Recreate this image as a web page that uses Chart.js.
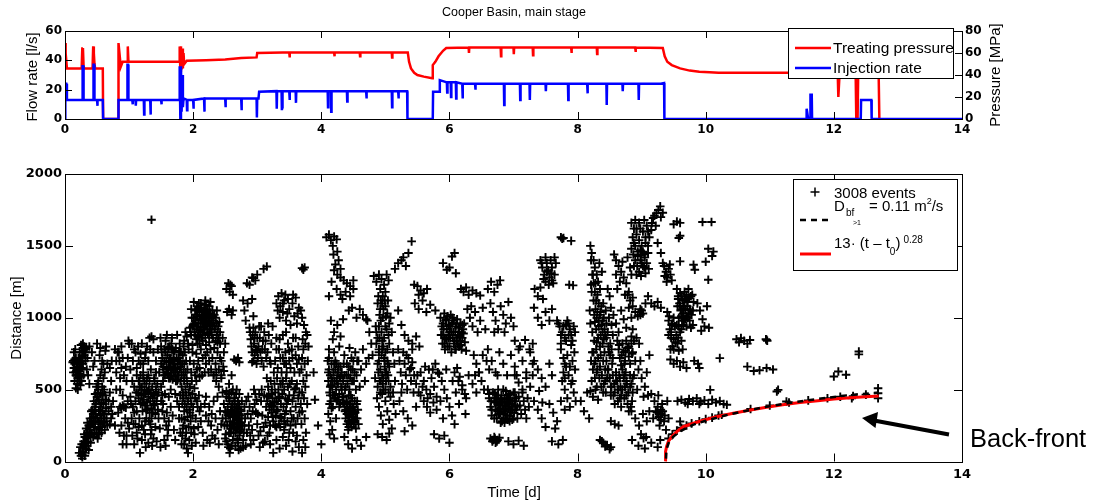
<!DOCTYPE html>
<html>
<head>
<meta charset="utf-8">
<script src="https://cdn.jsdelivr.net/npm/chart.js@4.4.1/dist/chart.umd.min.js"></script>
<style>
body{margin:0;background:#fff;width:1093px;height:501px;overflow:hidden;position:relative;font-family:"Liberation Sans",Arial,sans-serif;}
canvas{position:absolute;left:0;}
#topChart{top:0}
#botChart{top:145px}
.lbl{position:absolute;white-space:nowrap;color:#000;line-height:1;}
.box{position:absolute;box-sizing:border-box;border:1px solid #000;background:#fff;}
svg{position:absolute;left:0;top:0;}
</style>
</head>
<body>
<canvas id="topChart" width="1093" height="145"></canvas>
<canvas id="botChart" width="1093" height="356"></canvas>
<div class="box" style="left:788px;top:28px;width:166px;height:51px"></div>
<div class="box" style="left:793px;top:179px;width:165px;height:92px"></div>
<svg width="1093" height="501">
  <line x1="795" y1="48" x2="831" y2="48" stroke="#f00" stroke-width="2.5"/>
  <line x1="795" y1="68" x2="831" y2="68" stroke="#00f" stroke-width="2.5"/>
  <line x1="810.5" y1="192" x2="819.5" y2="192" stroke="#000" stroke-width="1.5"/>
  <line x1="815" y1="187.5" x2="815" y2="196.5" stroke="#000" stroke-width="1.5"/>
  <line x1="800" y1="220" x2="830" y2="220" stroke="#000" stroke-width="2.5" stroke-dasharray="6 5"/>
  <line x1="800" y1="254" x2="831" y2="254" stroke="#f00" stroke-width="3"/>
  <line x1="949" y1="434.5" x2="874" y2="420.5" stroke="#000" stroke-width="4"/>
  <polygon points="862,418 878,412 875.5,428" fill="#000"/>
</svg>
<script>
// ---- top panel: [time (d), value]
const flowRate = [[0,0],[0.005,24],[0.02,24],[0.03,13],[0.27,13],[0.275,36],[0.285,36],[0.29,13],[0.44,13],[0.445,37],[0.455,37],[0.46,13],
  [0.5,13],[0.505,9],[0.51,13],[0.59,13],[0.595,0],[0.83,0],[0.835,13],[0.97,13],[0.975,37],[0.985,37],[0.99,13],
  [1.05,13],[1.055,10],[1.06,13],[1.1,13],[1.105,9],[1.11,13],[1.23,13],[1.235,3],[1.24,13],[1.33,13],[1.335,3],[1.34,13],
  [1.5,13],[1.505,10],[1.51,13],[1.78,13],[1.79,36],[1.8,0],[1.81,36],[1.82,5],[1.83,30],[1.84,8],[1.85,14],
  [1.9,13],[1.905,6],[1.91,13],[2.0,13],[2.005,7],[2.01,13],[2.17,14],[2.175,5],[2.18,14],[2.5,14],[2.505,8],[2.51,14],
  [2.75,14],[2.755,6],[2.76,14],[2.99,14],[2.995,1],[3.0,14],[3.02,14],[3.03,18.6],[3.3,19],[3.305,7],[3.31,19],
  [3.38,19],[3.385,6],[3.39,8],[3.395,19],[3.5,19],[3.505,13],[3.51,19],[3.6,19],[3.605,11],[3.61,19],
  [4.1,19],[4.105,8],[4.11,19],[4.15,19],[4.155,5],[4.16,19],[4.4,19],[4.405,12],[4.41,19],[4.7,19],[4.705,14],[4.71,19],
  [5.1,19],[5.105,8],[5.11,19],[5.2,19],[5.205,14],[5.21,19],[5.34,19],[5.345,0],[5.74,0],[5.745,18.6],[5.84,18.6],
  [5.85,26.5],[5.96,25],[5.965,18],[5.97,25],[6.02,25],[6.025,15],[6.03,25],[6.1,25],[6.105,14],[6.11,25],
  [6.2,24],[6.205,14],[6.21,24],[6.4,24],[6.405,20],[6.41,24],[6.85,24],[6.855,9.5],[6.86,24],[7.1,24],[7.105,13],[7.11,24],
  [7.25,24],[7.255,13],[7.26,24],[7.5,24],[7.505,19],[7.51,24],[7.85,24],[7.855,13],[7.86,24],[8.15,24],[8.155,17.5],[8.16,24],
  [8.45,24],[8.455,9.5],[8.46,24],[8.7,24],[8.705,19],[8.71,24],[8.95,24],[8.955,13],[8.96,24],[9.3,24],[9.35,24.5],[9.355,0],
  [11.57,0],[11.575,7],[11.6,0],[11.63,0],[11.635,16.5],[11.655,16.5],[11.66,0],[12.42,0],[12.425,13],[12.585,13],[12.59,0],[14,0]];

const treatingPressure = [[0,69],[0.01,60],[0.03,46],[0.26,46],[0.27,64],[0.28,64.5],[0.29,48],[0.3,46],
  [0.43,46],[0.44,66],[0.45,60],[0.46,50],[0.47,46],[0.59,46],[0.595,0],[0.83,0],[0.835,69],[0.85,60],[0.87,47.5],[0.9,52],
  [0.97,52],[0.98,66],[0.99,52],[1.78,52],[1.79,66],[1.8,44],[1.81,66],[1.82,45],[1.83,64],[1.84,46],[1.85,60],[1.86,50],
  [1.9,53],[2.2,53.5],[2.5,54],[2.75,55.5],[2.99,56],[3.0,60],[3.4,60.5],[3.5,60.5],[3.505,56],[3.51,60.5],
  [4.2,60.5],[4.205,57],[4.21,60.5],[4.6,60.5],[4.605,57],[4.61,60.5],[5.1,60.5],[5.105,56],[5.11,60.5],[5.35,60.5],
  [5.37,52],[5.4,46],[5.45,42],[5.5,40],[5.6,38.5],[5.73,37],[5.74,49],[5.78,52],[5.83,57],[5.9,62],[5.95,64.5],
  [6.3,65],[6.305,60],[6.31,65],[6.8,65],[6.805,57],[6.81,65],[7.0,65],[7.005,59],[7.01,65],[7.3,65],[7.305,58],[7.31,65],
  [7.9,65],[7.905,60],[7.91,65],[8.3,65],[8.305,59],[8.31,65],[8.9,65],[8.905,61],[8.91,65],[9.33,64.5],
  [9.36,57],[9.4,52],[9.47,49],[9.6,46],[9.75,44],[9.9,43],[10.06,42.5],[10.2,42],[12.06,42],[12.07,20],[12.09,42],
  [12.34,42],[12.35,0],[12.37,0],[12.38,42],[12.55,42],[12.7,38],[12.71,0]];

// ---- bottom panel: events, flat list of time (d), distance (m)
const eventsDay0 = [0.13,700, 0.15,680, 0.14,650, 0.17,720, 0.18,690, 0.16,620, 0.19,600, 0.2,660, 0.21,640, 0.22,700, 0.23,610, 0.2,580,
  0.22,560, 0.24,530, 0.25,590, 0.26,650, 0.27,760, 0.28,790, 0.29,770, 0.3,800, 0.31,780, 0.27,730, 0.25,700, 0.3,740, 0.33,790,
  0.24,640, 0.19,540, 0.17,600, 0.23,660, 0.28,680, 0.32,760, 0.21,600, 0.26,560, 0.15,710, 0.18,630,
  0.27,20, 0.27,45, 0.27,70, 0.27,95, 0.26,120, 0.29,140, 0.3,110, 0.24,100, 0.33,90, 0.31,170,
  0.32,130, 0.34,160, 0.35,200, 0.36,180, 0.38,220, 0.37,250, 0.4,240, 0.41,280, 0.42,300, 0.43,260, 0.44,330, 0.45,310,
  0.46,350, 0.47,380, 0.48,400, 0.49,420, 0.5,450, 0.51,480, 0.52,500, 0.48,330, 0.5,300, 0.53,280, 0.55,320, 0.56,260,
  0.57,300, 0.58,350, 0.6,330, 0.62,280, 0.55,380, 0.6,400, 0.64,430, 0.59,460, 0.46,200, 0.52,230, 0.54,220, 0.58,240,
  0.62,220, 0.65,300, 0.68,350, 0.7,260, 0.44,170, 0.39,200, 0.36,140, 0.57,410, 0.53,360,
  0.52,560, 0.55,600, 0.57,640, 0.6,580, 0.62,620, 0.58,700, 0.55,790, 0.63,770, 0.66,680, 0.7,650, 0.73,700, 0.72,560,
  0.78,780, 0.82,760, 0.88,650, 0.9,720, 0.95,660, 0.99,840, 1.0,820, 0.85,700, 0.8,620,
  0.86,380, 0.88,370, 0.9,390, 0.92,380, 0.95,375,
  0.72,300, 0.78,250, 0.85,200, 0.9,120, 0.96,180, 0.75,420, 0.98,270, 0.8,500,
  0.14,760, 0.16,780, 0.12,690, 0.13,620, 0.15,560, 0.17,510, 0.19,680, 0.21,720, 0.23,760, 0.25,810, 0.28,820, 0.32,700,
  0.34,640, 0.36,600, 0.38,540, 0.35,720, 0.2,500, 0.22,630, 0.24,690, 0.29,600,
  0.22,60, 0.25,40, 0.29,60, 0.31,40, 0.34,110, 0.37,80, 0.4,130, 0.42,190, 0.45,240, 0.47,270, 0.49,200, 0.51,160,
  0.53,190, 0.55,240, 0.57,200, 0.6,270, 0.62,330, 0.64,370, 0.66,250, 0.68,420, 0.7,480, 0.72,380, 0.74,330, 0.43,360,
  0.45,420, 0.47,470, 0.49,520, 0.51,540, 0.53,430, 0.56,470, 0.58,520, 0.61,500, 0.63,460, 0.39,300, 0.41,350, 0.33,230,
  0.3,190, 0.35,270,
  0.38,800, 0.42,760, 0.46,700, 0.5,820, 0.54,740, 0.6,680, 0.64,800, 0.44,660,
  0.8,700, 0.84,760, 0.88,800, 0.92,600, 0.96,560, 0.98,720, 0.86,580,
  0.86,500, 0.9,460, 0.94,300, 0.98,420, 0.88,250, 0.92,180, 0.96,120, 0.83,340];

const eventsDay1 = [1.02,450, 1.04,300, 1.06,380, 1.08,520, 1.1,260, 1.1,420, 1.12,350, 1.14,480, 1.15,560, 1.16,300, 1.18,400,
  1.19,460, 1.2,520, 1.21,350, 1.22,580, 1.23,430, 1.24,500, 1.25,280, 1.26,470, 1.27,540, 1.28,410, 1.29,360, 1.3,450,
  1.31,500, 1.32,560, 1.33,420, 1.34,480, 1.35,300, 1.36,520, 1.37,440, 1.38,390, 1.39,580, 1.4,460, 1.41,330, 1.42,500,
  1.43,420, 1.44,540, 1.2,250, 1.27,300, 1.33,260, 1.12,600, 1.05,560, 1.18,600, 1.3,600, 1.08,340, 1.25,390, 1.35,370,
  1.22,470, 1.28,490, 1.15,440, 1.4,400, 1.45,360, 1.38,470, 1.32,340, 1.24,560,
  1.0,230, 1.05,180, 1.08,120, 1.12,200, 1.17,60, 1.2,150, 1.25,190, 1.3,130, 1.35,220, 1.38,160, 1.15,240,
  1.12,650, 1.15,700, 1.18,750, 1.22,680, 1.25,720, 1.28,800, 1.32,860, 1.35,870, 1.38,850, 1.33,780, 1.42,700, 1.2,820, 1.08,780,
  1.35,1682,
  1.47,620, 1.5,680, 1.52,720, 1.54,640, 1.55,780, 1.56,600, 1.58,700, 1.59,650, 1.6,740, 1.61,610, 1.62,690, 1.63,800,
  1.64,660, 1.65,720, 1.66,600, 1.67,640, 1.68,700, 1.69,760, 1.7,620, 1.71,680, 1.72,590, 1.73,650, 1.74,720, 1.75,620,
  1.76,680, 1.77,600, 1.78,760, 1.79,640, 1.8,700, 1.81,660, 1.82,600, 1.84,740, 1.85,800, 1.86,680, 1.88,620, 1.5,800,
  1.57,840, 1.66,820, 1.73,790, 1.62,580, 1.68,570, 1.75,560, 1.53,560, 1.6,610, 1.7,710, 1.64,690, 1.78,700, 1.72,650,
  1.58,620, 1.67,780,
  1.46,480, 1.5,420, 1.52,350, 1.55,300, 1.58,250, 1.6,180, 1.62,450, 1.65,380, 1.68,320, 1.7,220, 1.72,150, 1.75,420,
  1.78,300, 1.8,200, 1.82,120, 1.85,250, 1.88,160, 1.55,150, 1.48,230, 1.65,500, 1.72,470, 1.62,280, 1.78,380, 1.52,460, 1.84,460,
  1.8,560, 1.82,520, 1.84,480, 1.85,440, 1.86,560, 1.87,400, 1.88,500, 1.89,460, 1.9,380, 1.91,540, 1.92,420, 1.93,480,
  1.94,360, 1.95,520, 1.96,440, 1.97,400, 1.98,560, 1.99,470, 2.0,380, 2.02,510, 2.03,440, 1.86,350, 1.9,580, 1.95,340, 1.83,400,
  1.83,180, 1.86,120, 1.9,90, 1.94,150, 1.98,110, 2.02,190, 2.04,130,
  1.86,840, 1.88,900, 1.9,870, 1.92,820, 1.95,930, 1.97,880, 1.99,810,
  1.02,640, 1.06,700, 1.1,760, 1.14,800, 1.18,680, 1.22,620, 1.26,760, 1.3,700, 1.34,640, 1.38,760, 1.42,620, 1.45,780,
  1.04,820, 1.16,560, 1.28,580, 1.4,560,
  1.03,400, 1.07,260, 1.11,480, 1.13,160, 1.17,520, 1.21,410, 1.23,220, 1.27,360, 1.31,280, 1.34,190, 1.37,340, 1.41,240,
  1.43,140, 1.46,300, 1.5,520, 1.53,400, 1.56,470, 1.59,340, 1.61,220, 1.57,110, 1.49,100, 1.44,460, 1.36,110, 1.26,100,
  1.49,860, 1.51,760, 1.53,660, 1.55,700, 1.57,760, 1.59,880, 1.61,790, 1.63,720, 1.65,640, 1.67,860, 1.69,680, 1.71,770,
  1.73,560, 1.75,880, 1.77,720, 1.79,820, 1.81,760, 1.83,680, 1.85,620, 1.87,760, 1.89,700, 1.91,640, 1.93,780, 1.95,700,
  1.97,620, 1.99,760, 2.01,680, 2.03,600, 2.05,560, 2.07,820, 1.54,600, 1.64,580, 1.76,570, 1.86,580,
  1.8,460, 1.82,300, 1.84,230, 1.87,290, 1.89,200, 1.91,310, 1.93,240, 1.96,280, 1.99,320, 2.01,230, 2.04,300, 2.07,380,
  2.09,460, 1.92,60, 1.97,200];

const eventsDay2 = [2.0,950, 2.01,1000, 2.02,900, 2.03,1050, 2.04,980, 2.05,920, 2.06,1080, 2.07,1010, 2.08,960, 2.09,880,
  2.1,1040, 2.11,990, 2.12,930, 2.13,1070, 2.14,1020, 2.15,960, 2.16,900, 2.17,1050, 2.18,1000, 2.19,940, 2.2,1090, 2.21,980,
  2.22,920, 2.23,1030, 2.24,970, 2.25,880, 2.26,1010, 2.27,950, 2.28,900, 2.29,1000, 2.3,940, 2.31,860, 2.32,980, 2.34,920,
  2.35,840, 2.36,960, 2.38,900, 2.4,860, 2.42,820, 2.05,850, 2.1,820, 2.15,840, 2.2,810, 2.25,830, 2.08,1060, 2.12,1100,
  2.18,1090, 2.22,1060, 2.02,960, 2.06,940, 2.14,880, 2.19,1030, 2.24,1000, 2.28,960, 2.33,1020, 2.16,990, 2.21,950,
  2.11,910, 2.07,870, 2.26,920, 2.3,1050, 2.13,990, 2.23,890, 2.17,960, 1.98,1000, 1.96,900, 2.37,1050, 2.41,970,
  2.05,750, 2.08,700, 2.1,650, 2.12,780, 2.15,720, 2.18,620, 2.2,680, 2.22,760, 2.25,700, 2.28,640, 2.3,720, 2.32,600,
  2.35,680, 2.38,760, 2.4,640, 2.42,720, 2.44,600, 2.14,600, 2.24,620, 2.33,790, 2.06,640, 2.19,740, 2.27,780, 2.36,620, 2.1,590,
  2.06,420, 2.1,350, 2.12,280, 2.15,200, 2.18,400, 2.2,320, 2.22,150, 2.25,380, 2.28,250, 2.3,180, 2.32,420, 2.35,300,
  2.38,220, 2.4,120, 2.42,350, 2.44,260, 2.16,110, 2.26,130, 2.34,160, 2.08,240, 2.2,450, 2.38,450, 2.12,380, 2.29,330, 2.24,280,
  2.32,600, 2.36,560, 2.4,520, 2.44,580, 2.48,630, 2.52,490, 2.56,540, 2.6,600, 2.62,500, 2.46,480,
  2.52,1200, 2.55,1240, 2.57,1180, 2.6,1220, 2.62,1160, 2.58,1230, 2.53,1040, 2.56,1060, 2.6,1020, 2.62,1050,
  2.64,710, 2.67,700, 2.7,720, 2.72,690,
  2.48,400, 2.5,350, 2.51,300, 2.52,450, 2.53,250, 2.54,380, 2.55,320, 2.56,200, 2.57,420, 2.58,280, 2.59,360, 2.6,230,
  2.61,400, 2.62,310, 2.63,260, 2.64,440, 2.65,340, 2.66,200, 2.67,380, 2.68,290, 2.69,240, 2.7,420, 2.71,330, 2.72,180,
  2.73,270, 2.74,360, 2.75,220, 2.76,300, 2.78,150, 2.8,250, 2.82,110, 2.84,200, 2.5,160, 2.54,120, 2.58,90, 2.62,150,
  2.66,110, 2.7,130, 2.74,90, 2.78,100, 2.6,480, 2.68,500, 2.72,470, 2.55,470, 2.76,420, 2.8,380, 2.57,250, 2.63,330,
  2.69,300, 2.65,270, 2.61,350, 2.67,230, 2.71,260, 2.59,200, 2.64,380, 2.73,320, 2.53,340,
  2.78,1120, 2.8,1050, 2.82,980, 2.85,1100, 2.88,930, 2.92,1130, 2.94,1010,
  2.89,900, 2.9,850, 2.91,800, 2.92,760, 2.93,880, 2.94,700, 2.95,820, 2.96,740, 2.97,900, 2.98,780, 2.99,680, 3.0,860,
  3.01,720, 3.02,800, 3.03,940, 3.05,760, 3.07,700, 3.09,840, 3.1,660, 3.12,780, 3.14,720, 2.94,930, 2.96,860, 3.0,770, 2.92,690,
  2.84,1240, 2.88,1230, 2.92,1280, 2.94,1276, 2.97,1260, 3.0,1300, 3.15,1357, 3.1,1340,
  2.86,450, 2.88,380, 2.9,300, 2.92,220, 2.94,150, 2.96,400, 2.98,340, 3.0,260, 3.02,180, 3.04,100, 3.06,420, 3.08,320,
  3.1,240, 3.12,140, 3.14,380, 2.9,120, 2.97,470, 3.03,470, 2.87,250, 3.11,460,
  1.97,1060, 1.99,940, 2.01,1110, 2.03,880, 2.05,1020, 2.07,940, 2.09,1100, 2.11,1060, 2.13,860, 2.15,1000, 2.17,920,
  2.19,860, 2.21,1040, 2.23,960, 2.25,1080, 2.27,1020, 2.29,880, 2.31,1010, 2.33,940, 2.35,1000, 2.37,880, 2.39,940,
  2.27,1110, 2.19,1120,
  2.44,700, 2.46,860, 2.48,760, 2.5,820, 2.42,900, 2.38,830, 2.47,660,
  2.46,300, 2.49,250, 2.51,190, 2.52,140, 2.55,100, 2.57,60, 2.6,110, 2.63,200, 2.65,420, 2.67,470, 2.69,160, 2.71,80,
  2.73,210, 2.75,350, 2.77,250, 2.79,200, 2.81,300, 2.83,420, 2.6,380, 2.56,440, 2.62,270, 2.66,310, 2.7,370, 2.74,270,
  2.68,340, 2.58,330, 2.64,240, 2.72,400,
  3.04,860, 3.06,940, 3.08,780, 3.11,900, 3.13,840, 3.16,760, 3.18,880, 3.2,700, 3.22,820, 3.24,940, 3.17,960, 3.21,680,
  2.85,330, 2.89,180, 2.93,350, 2.95,500, 2.99,430, 3.01,330, 3.05,210, 3.07,500, 3.09,130, 3.13,270, 3.15,450, 3.17,310,
  3.19,200, 3.23,390];

const eventsDay3 = [3.15,580, 3.17,520, 3.18,460, 3.2,400, 3.21,560, 3.22,340, 3.23,500, 3.24,440, 3.25,280, 3.26,380,
  3.27,540, 3.28,480, 3.29,320, 3.3,420, 3.31,580, 3.32,360, 3.33,500, 3.34,260, 3.35,450, 3.36,540, 3.37,400, 3.38,300,
  3.39,470, 3.4,560, 3.41,380, 3.42,500, 3.43,330, 3.44,440, 3.45,580, 3.46,400, 3.47,280, 3.48,520, 3.5,460, 3.52,350,
  3.54,560, 3.55,420, 3.57,300, 3.58,500, 3.6,380, 3.62,540, 3.64,440, 3.66,340, 3.2,250, 3.28,250, 3.36,240, 3.44,260,
  3.52,250, 3.6,260,
  3.16,180, 3.2,120, 3.25,60, 3.3,150, 3.35,90, 3.4,170, 3.45,110, 3.5,200, 3.55,70, 3.6,140, 3.65,100,
  3.26,620, 3.28,700, 3.3,860, 3.32,650, 3.34,780, 3.36,720, 3.38,620, 3.4,880, 3.42,680, 3.44,760, 3.46,620, 3.48,820,
  3.5,700, 3.52,650, 3.54,780, 3.56,860, 3.58,620, 3.6,740, 3.62,680, 3.64,800, 3.66,620, 3.45,900,
  3.3,1100, 3.33,1150, 3.36,1080, 3.38,1170, 3.4,1040, 3.42,1120, 3.45,980, 3.48,1130, 3.5,1060, 3.52,950, 3.55,1100,
  3.58,1010, 3.6,1140, 3.62,960, 3.65,1070, 3.44,1160, 3.35,1000,
  3.7,1345, 3.72,1335, 3.74,1350, 3.68,1050, 3.7,1000, 3.73,950, 3.76,900, 3.71,850, 3.75,820, 3.78,880, 3.72,780,
  3.7,720, 3.74,680, 3.69,640, 3.77,600, 3.72,560, 3.75,520, 3.7,480, 3.73,440, 3.78,400, 3.7,350, 3.74,300, 3.69,260,
  3.76,200, 3.72,150, 3.75,100, 3.7,60, 3.8,800, 3.79,700,
  3.9,430, 3.95,250, 4.0,120, 3.88,620,
  3.16,420, 3.19,360, 3.22,470, 3.24,310, 3.27,410, 3.3,350, 3.33,440, 3.36,310, 3.39,540, 3.42,280, 3.45,350, 3.48,430,
  3.51,540, 3.54,300, 3.57,460, 3.6,510, 3.63,300, 3.66,480, 3.68,400, 3.56,200, 3.42,220, 3.3,240, 3.49,150, 3.62,180,
  3.3,780, 3.35,850, 3.4,720, 3.45,680, 3.5,770, 3.55,720, 3.6,860, 3.65,710,
  3.32,1050, 3.4,1100, 3.47,1030, 3.56,1160, 3.63,1030];

const eventsDay4 = [4.08,1560, 4.12,1578, 4.15,1540, 4.2,1565, 4.24,1545, 4.18,1500, 4.25,1460, 4.27,1400, 4.22,1370, 4.3,1340, 4.19,1440,
  4.2,1330, 4.25,1300, 4.3,1280, 4.35,1260, 4.4,1240, 4.45,1220, 4.5,1200, 4.38,1180, 4.3,1160, 4.24,1200, 4.33,1130,
  4.45,1150, 4.5,1260, 4.12,1150, 4.16,1250,
  4.15,980, 4.2,900, 4.25,950, 4.3,870, 4.34,990, 4.18,850,
  4.1,700, 4.11,560, 4.12,640, 4.13,480, 4.14,600, 4.15,420, 4.16,680, 4.17,520, 4.18,380, 4.19,620, 4.2,460, 4.21,560,
  4.22,700, 4.23,500, 4.24,420, 4.25,600, 4.26,540, 4.27,660, 4.28,470, 4.29,580, 4.3,400, 4.31,520, 4.32,620, 4.33,450,
  4.34,560, 4.35,680, 4.37,500, 4.39,600, 4.41,540, 4.43,660, 4.45,580, 4.47,720, 4.49,640, 4.51,560, 4.53,760, 4.55,600,
  4.58,700, 4.6,520, 4.62,640, 4.65,780, 4.68,560, 4.7,680, 4.12,780, 4.2,760, 4.28,800, 4.36,740, 4.44,790, 4.14,520,
  4.22,640, 4.3,590, 4.18,460, 4.26,430, 4.11,620, 4.24,680, 4.16,580,
  4.35,450, 4.36,400, 4.37,350, 4.38,300, 4.39,420, 4.4,260, 4.41,380, 4.42,330, 4.43,460, 4.44,280, 4.45,400, 4.46,350,
  4.47,240, 4.48,440, 4.49,310, 4.5,380, 4.51,270, 4.52,420, 4.53,340, 4.54,230, 4.55,400, 4.56,300, 4.57,360, 4.58,260,
  4.42,220, 4.46,460, 4.5,330, 4.44,370, 4.48,290, 4.4,330,
  4.11,330, 4.14,280, 4.17,220, 4.2,160, 4.23,300, 4.13,190,
  4.36,170, 4.42,120, 4.48,90, 4.55,150, 4.62,110, 4.7,170,
  4.43,1050, 4.48,1070, 4.55,1000, 4.6,1060, 4.65,1020, 4.7,990,
  4.72,980, 4.75,900, 4.78,820, 4.8,740, 4.85,940, 4.88,860, 4.9,760, 4.74,720,
  4.82,1290, 4.86,1250, 4.9,1300, 4.94,1270, 4.98,1230, 5.02,1300, 5.05,1260, 4.92,1200, 4.96,1150, 5.0,1180, 5.04,1120,
  4.88,1100, 4.92,1060, 4.96,1000, 5.0,1080, 5.03,1030, 5.06,960, 4.9,940, 4.94,900, 4.98,860, 5.02,920, 5.05,880,
  4.86,820, 4.9,780, 4.94,740, 4.97,800, 5.0,760, 5.03,700, 5.06,820, 4.88,680, 4.92,640, 4.95,600, 4.99,660, 5.02,620,
  5.05,560, 4.84,580, 4.88,520, 4.92,480, 4.96,540, 5.0,500, 5.04,600, 5.08,520, 5.12,480, 5.15,560, 4.9,700, 4.95,840,
  5.0,940, 4.98,720, 4.93,980, 5.08,1000, 5.1,900, 5.12,760, 5.14,680, 4.86,900, 5.0,620, 4.97,580, 5.03,780, 4.91,560,
  5.06,660, 4.95,1100,
  4.87,440, 4.9,380, 4.93,320, 4.96,260, 5.0,420, 5.03,350, 5.06,290, 5.1,230, 5.13,400, 5.16,330, 4.95,470, 5.08,450,
  4.88,190, 4.95,170, 5.02,150, 5.06,195,
  4.12,720, 4.14,460, 4.16,370, 4.18,560, 4.2,680, 4.22,440, 4.24,560, 4.26,620, 4.28,380, 4.3,660, 4.32,500, 4.34,410,
  4.36,600, 4.38,520, 4.4,680, 4.42,600, 4.44,500, 4.46,640, 4.48,560, 4.5,700, 4.52,620, 4.54,500, 4.56,700, 4.13,400, 4.15,530,
  4.38,360, 4.4,410, 4.42,280, 4.44,320, 4.46,260, 4.48,380, 4.5,280, 4.52,350, 4.54,300, 4.56,420, 4.43,240, 4.47,330,
  4.89,1150, 4.93,1120, 4.97,1060, 5.01,1010, 4.91,860, 4.95,780, 4.99,700, 5.04,680, 4.89,620, 4.93,560, 4.97,500,
  5.01,560, 5.05,480, 4.99,1120, 4.91,1020];

const eventsDay5 = [5.2,780, 5.22,700, 5.24,620, 5.26,540, 5.28,760, 5.3,680, 5.32,600, 5.34,500, 5.36,720, 5.38,640,
  5.4,560, 5.42,780, 5.44,480, 5.25,480, 5.33,740,
  5.15,1340, 5.2,1380, 5.25,1400, 5.28,1420, 5.32,1360, 5.36,1450, 5.41,1531,
  5.45,1230, 5.5,1220, 5.55,1190, 5.6,1170, 5.65,1200, 5.52,1160,
  5.46,1100, 5.52,1060, 5.58,1120, 5.64,1040, 5.7,1090, 5.78,1050,
  5.3,880, 5.36,840, 5.42,820, 5.48,870, 5.53,800, 5.2,1050, 5.25,950,
  5.4,650, 5.45,600, 5.48,540, 5.52,480, 5.55,620, 5.6,560, 5.64,500, 5.68,640, 5.72,580, 5.76,520, 5.8,450, 5.84,610, 5.66,440,
  5.55,460, 5.6,420, 5.65,380, 5.7,340, 5.75,410, 5.8,360,
  5.22,420, 5.28,350, 5.35,300, 5.42,250, 5.48,380, 5.3,210,
  5.76,190, 5.84,160, 5.92,180, 6.0,130,
  5.86,1000, 5.88,940, 5.9,880, 5.92,820, 5.94,980, 5.96,920, 5.98,860, 6.0,800, 6.02,1020, 6.04,960, 6.06,900, 6.08,840,
  6.1,780, 6.12,990, 6.14,930, 6.16,870, 6.18,810, 6.2,950, 6.22,890, 6.24,830, 6.26,770, 5.9,960, 5.95,850, 6.0,900,
  6.05,860, 6.1,940, 6.15,800, 6.2,860, 5.93,780, 6.03,760, 6.13,880, 6.07,980, 5.97,1010, 6.17,960, 5.89,820, 6.01,940,
  6.11,840, 6.09,900, 5.99,880, 6.19,900, 6.23,960,
  5.9,1380, 5.96,1334, 6.0,1350, 6.04,1426, 6.08,1450, 6.1,1310,
  5.78,680, 5.82,620, 5.88,560, 5.92,500, 5.96,440, 6.0,380, 6.04,320, 6.08,260, 6.12,650, 6.16,590, 6.2,530, 6.24,470,
  5.86,420, 5.95,640, 6.05,560, 6.15,400, 6.25,330, 5.9,300, 6.1,480,
  5.91,920, 5.93,860, 5.95,990, 5.97,800, 5.99,950, 6.01,860, 6.03,900, 6.05,1000, 6.07,820, 6.09,780, 6.11,960, 6.13,820,
  6.15,900, 6.17,840, 6.19,780, 6.21,920, 5.87,880, 5.92,1030,
  5.42,690, 5.5,600, 5.58,520, 5.62,660, 5.7,470, 5.74,640];

const eventsDay6 = [6.18,1200, 6.22,1180, 6.26,1210, 6.3,1160, 6.36,1190, 6.42,1170, 6.48,1155,
  6.28,1060, 6.32,1000, 6.36,940, 6.4,1040, 6.44,900, 6.48,980, 6.52,1070, 6.56,920, 6.34,1080,
  6.38,740, 6.42,680, 6.46,620, 6.5,560, 6.54,500, 6.58,700, 6.62,640, 6.4,600, 6.52,740,
  6.08,620, 6.14,560, 6.2,500, 6.26,440, 6.3,600, 6.36,540, 6.42,480, 6.46,620,
  6.6,1200, 6.65,1250, 6.7,1180, 6.75,1230, 6.79,1260,
  6.64,1100, 6.68,1040, 6.72,980, 6.76,920, 6.8,1080, 6.84,1020, 6.88,960, 6.92,1110, 6.96,1000, 7.0,940, 6.7,900, 6.86,900,
  6.6,780, 6.66,700, 6.72,620, 6.78,760, 6.84,680, 6.9,600, 6.96,740, 7.02,660, 7.08,780, 7.14,700, 7.2,620, 7.26,760,
  7.3,680, 6.75,600, 7.05,600,
  6.6,500, 6.62,440, 6.64,380, 6.66,320, 6.68,480, 6.7,420, 6.72,360, 6.74,300, 6.76,460, 6.78,400, 6.8,340, 6.82,280,
  6.84,500, 6.86,440, 6.88,380, 6.9,320, 6.92,460, 6.94,400, 6.96,340, 6.98,290, 7.0,480, 7.02,420, 7.04,360, 7.06,300,
  7.08,450, 7.1,390, 7.12,330, 7.14,480, 7.16,420, 7.18,360, 7.2,300, 7.22,440, 7.24,380, 6.75,350, 6.8,430, 6.85,330,
  6.9,410, 6.95,360, 6.83,390, 6.87,350, 6.93,430, 6.97,380, 6.79,370, 6.73,410, 6.89,460, 7.01,340, 6.91,290, 6.81,460,
  6.77,330, 6.99,420, 6.71,470, 6.65,420, 7.03,390, 6.86,270, 6.94,320,
  6.64,160, 6.67,140, 6.7,170, 6.72,130, 6.75,150, 6.78,165,
  6.92,140, 7.0,120, 7.08,145, 7.16,110,
  6.62,470, 6.66,360, 6.7,300, 6.74,440, 6.78,330, 6.82,420, 6.84,360, 6.88,300, 6.9,440, 6.92,370, 6.94,280, 6.96,420,
  6.98,360, 7.0,300, 7.04,440, 7.06,380, 6.76,500, 6.8,270, 6.86,410, 6.88,490, 6.72,440, 6.95,470, 7.02,480, 6.84,300, 6.76,390,
  6.68,150, 6.71,160, 6.74,140];

const eventsDay7 = [7.02,600, 7.08,550, 7.14,500, 7.2,580, 7.26,520, 7.3,600,
  7.02,840, 7.1,800, 7.18,845, 7.25,780, 7.3,820,
  7.32,1070, 7.38,1000, 7.44,950, 7.5,1040, 7.56,980, 7.6,1060,
  7.33,1200, 7.38,1150, 7.42,1210, 7.46,1130,
  7.42,1400, 7.45,1350, 7.48,1300, 7.5,1420, 7.52,1380, 7.54,1330, 7.56,1280, 7.58,1400, 7.6,1350, 7.62,1240, 7.64,1300,
  7.66,1380, 7.5,1250, 7.55,1230, 7.47,1270, 7.59,1310,
  7.74,1560, 7.76,1550, 7.78,1555, 7.9,1535,
  7.32,700, 7.38,640, 7.44,580, 7.5,520, 7.56,680, 7.6,600, 7.4,490,
  7.32,420, 7.38,360, 7.44,300, 7.5,240, 7.56,400, 7.62,340, 7.68,280, 7.74,420, 7.8,360, 7.45,410, 7.65,230,
  7.6,140, 7.7,120, 7.77,150,
  7.68,980, 7.72,940, 7.76,900, 7.8,860, 7.84,980, 7.88,920, 7.92,840, 7.96,900, 7.74,820, 7.9,810, 7.82,950, 7.86,880,
  7.74,780, 7.78,720, 7.82,660, 7.86,600, 7.9,540, 7.94,480, 7.97,420, 7.76,560, 7.8,500, 7.84,440, 7.88,380, 7.92,700,
  7.96,640, 7.78,620, 7.95,760,
  7.87,1230, 7.93,1225,
  7.7,960, 7.74,880, 7.78,940, 7.82,840, 7.86,960, 7.9,880, 7.94,940, 7.8,680, 7.84,740, 7.88,660, 7.92,560, 7.8,580,
  7.44,1380, 7.52,1320, 7.6,1260, 7.64,1420];

const eventsDay8 = [8.35,150, 8.38,140, 8.4,130, 8.43,104, 8.46,115, 8.5,85, 8.52,100,
  8.05,420, 8.1,350, 8.15,480, 8.18,300,
  8.2,1500, 8.22,1450, 8.25,1400, 8.27,1350, 8.3,1300, 8.32,1250, 8.35,1200, 8.22,1180, 8.25,1120, 8.28,1060, 8.3,1000,
  8.33,940, 8.36,880, 8.39,820, 8.42,760, 8.45,700, 8.48,640, 8.5,580, 8.52,520, 8.2,960, 8.23,900, 8.26,840, 8.29,780,
  8.32,720, 8.35,660, 8.38,600, 8.41,540, 8.44,480, 8.21,700, 8.24,640, 8.27,580, 8.3,520, 8.33,1100, 8.36,1040, 8.39,980,
  8.42,920, 8.45,860, 8.48,800, 8.51,740, 8.54,680, 8.24,1300, 8.28,1240, 8.31,1160, 8.34,1380, 8.38,1320, 8.26,1020,
  8.29,920, 8.32,860, 8.35,800, 8.23,760, 8.26,680, 8.3,620, 8.4,700, 8.43,640, 8.46,580, 8.49,1000, 8.4,1100, 8.44,1050,
  8.47,1200, 8.5,1150, 8.53,950, 8.55,880, 8.21,1230, 8.19,1050, 8.37,950, 8.41,850, 8.27,970,
  8.2,490, 8.24,450, 8.28,500, 8.32,430,
  8.57,1440, 8.6,1400, 8.64,1360, 8.68,1320, 8.72,1280, 8.76,1240, 8.8,1180, 8.62,1200, 8.66,1250, 8.7,1390, 8.74,1160,
  8.78,1420, 8.84,1300, 8.86,1140, 8.6,1300, 8.82,1350,
  8.52,1070, 8.56,1020, 8.6,960, 8.64,900, 8.68,1050, 8.72,990, 8.76,930, 8.8,1070, 8.84,1000, 8.86,920,
  8.62,840, 8.64,780, 8.66,720, 8.68,670, 8.7,820, 8.72,760, 8.74,700, 8.76,840, 8.78,790, 8.8,730, 8.82,680, 8.84,820,
  8.86,760, 8.69,740, 8.75,770, 8.8,800, 8.65,810, 8.73,680,
  8.47,640, 8.5,580, 8.53,520, 8.56,460, 8.58,400, 8.6,620, 8.62,560, 8.64,500, 8.66,440, 8.68,380, 8.7,640, 8.72,580,
  8.74,520, 8.76,460, 8.78,400, 8.8,350, 8.82,600, 8.84,540, 8.86,480, 8.55,600, 8.65,600, 8.75,620, 8.85,420, 8.57,540,
  8.67,520, 8.77,540, 8.63,420, 8.73,440, 8.52,460, 8.83,380,
  8.52,280, 8.58,260, 8.64,250,
  8.84,1660, 8.88,1620, 8.92,1580, 8.96,1540, 9.0,1500, 9.04,1680, 9.08,1640, 9.1,1600, 9.12,1560, 8.9,1680, 8.98,1620,
  9.06,1520, 9.02,1600,
  8.84,1480, 8.87,1440, 8.9,1400, 8.93,1360, 8.96,1320, 8.99,1290, 9.02,1460, 9.05,1420, 9.08,1380, 9.11,1340, 8.88,1360,
  8.94,1430, 9.0,1380, 9.06,1310, 8.92,1300, 8.98,1470, 9.04,1350, 9.1,1450,
  8.78,1160, 8.82,1120, 8.86,1080, 8.9,1040, 8.94,1010, 8.98,1060, 9.02,1030, 9.06,1100, 9.1,1150, 8.98,1020, 9.0,1050, 8.97,1040,
  8.84,350, 8.9,300, 8.96,250, 9.02,330, 9.08,280, 9.12,350,
  8.99,190, 9.03,162, 9.07,170,
  8.84,870, 8.88,840, 8.92,860, 8.96,820,
  8.85,750, 8.9,700, 8.95,640, 9.0,580, 9.05,520, 9.1,460, 8.88,600, 8.98,700, 9.08,620, 9.12,740, 8.93,500, 9.03,450,
  8.85,150, 8.95,110, 9.05,90, 9.15,130, 9.25,100,
  8.21,1400, 8.23,1300, 8.25,1240, 8.27,1180, 8.29,1120, 8.31,1040, 8.33,980, 8.35,1020, 8.37,1080, 8.39,900, 8.41,1000,
  8.43,880, 8.45,960, 8.47,900, 8.49,760, 8.51,820, 8.53,780, 8.55,720, 8.25,760, 8.28,700, 8.31,640, 8.34,580, 8.37,520,
  8.4,480, 8.43,560, 8.22,560, 8.36,740, 8.3,830,
  8.86,1560, 8.9,1500, 8.94,1460, 8.98,1400, 9.02,1360, 9.06,1560, 9.1,1500, 8.92,1620, 8.96,1660, 9.04,1440, 8.88,1520, 9.0,1440,
  8.6,560, 8.63,500, 8.66,580, 8.7,500, 8.73,600, 8.76,560, 8.79,480, 8.82,520, 8.86,580, 8.58,480, 8.68,460];

const eventsDay9 = [9.16,1659, 9.18,1694, 9.2,1710, 9.23,1728, 9.26,1750, 9.29,1775, 9.22,1640, 9.3,1700, 9.15,1610, 9.33,1730,
  9.25,1520, 9.3,1450, 9.33,1380,
  9.5,1650, 9.55,1670, 9.6,1660, 9.6,1570, 9.58,1555,
  9.95,1666, 10.09,1666, 10.04,1480, 10.1,1430, 10.0,1390, 10.12,1460, 10.04,1264, 9.6,1392,
  9.35,1360, 9.38,1320, 9.4,1280, 9.42,1340, 9.45,1300, 9.47,1260, 9.39,1250, 9.44,1370, 9.36,1290,
  9.81,1369, 9.83,1334,
  9.15,1100, 9.2,1080, 9.25,1110, 9.3,1070,
  9.55,1200, 9.57,1150, 9.59,1100, 9.61,1050, 9.63,1000, 9.65,950, 9.67,1180, 9.69,1130, 9.71,1080, 9.73,1030, 9.75,980,
  9.77,930, 9.79,1160, 9.81,1110, 9.6,1170, 9.64,1120, 9.68,1060, 9.72,1000, 9.76,1050, 9.8,950, 9.58,1000, 9.62,920,
  9.66,1080, 9.7,940, 9.74,1140, 9.78,1020, 9.56,1080, 9.68,990, 9.73,1200, 9.63,1060,
  9.87,1100, 9.91,1050, 9.95,990, 9.98,940, 10.02,1080, 10.05,930, 9.93,910,
  9.4,1040, 9.42,980, 9.44,920, 9.46,860, 9.48,800, 9.5,1000, 9.52,940, 9.54,880, 9.56,820, 9.58,770, 9.6,900, 9.62,840,
  9.64,780, 9.45,780, 9.5,850, 9.55,950, 9.43,1010, 9.47,950, 9.57,860, 9.63,980,
  9.45,710, 9.5,680, 9.55,700, 9.6,660, 9.65,690, 9.7,650,
  9.82,700, 9.88,680, 9.9,650,
  9.15,470, 9.2,420, 9.25,380, 9.3,330, 9.35,280, 9.4,420, 9.18,300, 9.28,250, 9.38,220, 9.22,350, 9.32,400, 9.42,300,
  9.26,460, 9.3,360,
  9.24,340, 9.27,310, 9.3,290, 9.33,350, 9.36,320,
  9.29,150, 9.6,278,
  9.56,420, 9.62,430, 9.68,410, 9.74,435, 9.8,420, 9.86,440, 9.92,415, 9.98,425, 10.04,400, 10.1,430, 10.16,410,
  10.22,420, 10.28,400, 10.33,395, 9.72,400, 9.9,400,
  9.42,160, 9.48,190, 9.55,215, 9.62,235, 9.7,250, 9.78,265, 9.9,280, 10.0,295, 10.1,305, 10.2,320, 10.25,325,
  9.57,1130, 9.6,1080, 9.62,1150, 9.65,1030, 9.67,1120, 9.7,1010, 9.72,1110, 9.75,1060, 9.77,1150, 9.8,1050, 9.62,1010,
  9.66,980, 9.58,940, 9.7,1160,
  9.42,880, 9.46,900, 9.5,780, 9.53,830, 9.48,960];

const eventsLate = [10.07,498, 10.22,719,
  10.48,850, 10.52,830, 10.55,858, 10.6,840, 10.65,820, 10.69,845,
  10.95,846, 10.96,840, 10.94,850,
  10.65,660, 10.75,630, 10.84,635, 10.95,650, 11.05,640,
  11.11,487, 11.13,498, 11.26,417,
  10.7,365, 11.0,390, 11.3,410, 11.6,425, 11.9,440, 12.1,450, 12.3,455, 12.5,465, 12.69,475,
  12.0,591, 12.07,626, 12.19,603, 12.39,765, 12.39,745, 12.69,510, 12.69,440, 12.28,440];

// ---- fitted / computed back-front curves
const fitTime = [9.37, 9.372, 9.375, 9.39, 9.415, 9.47, 9.55, 9.65, 9.81, 9.95, 10.2, 10.45, 10.7, 10.95, 11.2, 11.47, 11.75, 12.0, 12.3, 12.7];
const fitDist = [0, 40, 70, 105, 138, 173, 208, 242, 266, 285, 315, 338, 358, 378, 395, 410, 423, 434, 445, 456];
const bfTime = [9.38, 9.385, 9.4, 9.43, 9.5, 9.6, 9.8, 10.0, 10.3, 10.6, 11.0, 11.4, 11.8, 12.2, 12.7];
const bfDist = [20, 60, 100, 140, 175, 210, 255, 283, 320, 350, 385, 413, 438, 460, 480];

// ---- ticks
const timeTicks = [0, 2, 4, 6, 8, 10, 12, 14];
const flowTicks = [0, 20, 40, 60];
const pressureTicks = [0, 20, 40, 60, 80];
const distTicks = [0, 500, 1000, 1500, 2000];

function xy(pairs){ return pairs.map(p => ({x: p[0], y: p[1]})); }
function flat(list){ const out = []; for (let i = 0; i < list.length; i += 2) out.push({x: list[i], y: list[i+1]}); return out; }
function zip(t, v){ return t.map((x, i) => ({x: x, y: v[i]})); }

// inward tick marks + box, matlab style
const frameTicks = {
  id: 'frameTicks',
  afterDraw(chart, args, opts){
    const {ctx, chartArea: a, scales} = chart;
    const len = opts.len;
    ctx.save();
    ctx.strokeStyle = '#000';
    ctx.lineWidth = 1;
    ctx.strokeRect(Math.round(a.left) + 0.5, Math.round(a.top) + 0.5, Math.round(a.right - a.left), Math.round(a.bottom - a.top));
    ctx.beginPath();
    const sx = scales.x;
    sx.ticks.forEach(t => {
      if (t.value <= sx.min || t.value >= sx.max) return;
      const px = Math.round(sx.getPixelForValue(t.value)) + 0.5;
      ctx.moveTo(px, a.bottom); ctx.lineTo(px, a.bottom - len);
      ctx.moveTo(px, a.top); ctx.lineTo(px, a.top + len);
    });
    const side = (id, x0, dir) => {
      const s = scales[id];
      s.ticks.forEach(t => {
        if (t.value <= s.min || t.value >= s.max) return;
        const py = Math.round(s.getPixelForValue(t.value)) + 0.5;
        ctx.moveTo(x0, py); ctx.lineTo(x0 + dir * len, py);
      });
    };
    side(opts.left, a.left, 1);
    side(opts.right, a.right, -1);
    ctx.stroke();
    ctx.restore();
  }
};

const tickFont = size => ({family: '"DejaVu Sans", sans-serif', size: size, weight: 'bold'});
const noGrid = {display: false, drawTicks: false};
const plain = v => String(v);

new Chart(document.getElementById('topChart'), {
  type: 'scatter',
  data: {datasets: [
    {label: 'Injection rate', data: xy(flowRate), yAxisID: 'y', showLine: true, borderColor: '#0000ff', borderWidth: 2.5, pointRadius: 0},
    {label: 'Treating pressure', data: xy(treatingPressure), yAxisID: 'y2', showLine: true, borderColor: '#ff0000', borderWidth: 2.5, pointRadius: 0}
  ]},
  options: {
    animation: false, responsive: false, events: [],
    layout: {padding: {top: 31, left: 0, right: 0, bottom: 0}},
    plugins: {legend: {display: false}, tooltip: {enabled: false}, frameTicks: {len: 7, left: 'y', right: 'y2'}},
    scales: {
      x: {type: 'linear', min: 0, max: 14, afterBuildTicks: s => { s.ticks = timeTicks.map(v => ({value: v})); },
        ticks: {autoSkip: false, maxRotation: 0, padding: 4, color: '#000', font: tickFont(12), callback: plain},
        grid: noGrid, border: {display: false}, afterFit: s => { s.height = 26; }},
      y: {position: 'left', min: 0, max: 60, afterBuildTicks: s => { s.ticks = flowTicks.map(v => ({value: v})); },
        ticks: {padding: 3, color: '#000', font: tickFont(12), callback: plain},
        grid: noGrid, border: {display: false}, afterFit: s => { s.width = 65; }},
      y2: {position: 'right', min: 0, max: 80, afterBuildTicks: s => { s.ticks = pressureTicks.map(v => ({value: v})); },
        ticks: {padding: 3, color: '#000', font: tickFont(12), callback: plain},
        grid: noGrid, border: {display: false}, afterFit: s => { s.width = 131; }}
    }
  },
  plugins: [frameTicks]
});

const allEvents = [].concat(flat(eventsDay0), flat(eventsDay1), flat(eventsDay2), flat(eventsDay3), flat(eventsDay4),
  flat(eventsDay5), flat(eventsDay6), flat(eventsDay7), flat(eventsDay8), flat(eventsDay9), flat(eventsLate));

new Chart(document.getElementById('botChart'), {
  type: 'scatter',
  data: {datasets: [
    {label: 'D_bf', data: zip(bfTime, bfDist), showLine: true, borderColor: '#000', borderWidth: 2.5, borderDash: [6, 5], pointRadius: 0},
    {label: 'fit', data: zip(fitTime, fitDist), showLine: true, borderColor: '#ff0000', borderWidth: 3, pointRadius: 0},
    {label: '3008 events', data: allEvents, pointStyle: 'cross', pointRadius: 4.3, borderColor: '#000', borderWidth: 1.9, backgroundColor: '#000'}
  ]},
  options: {
    animation: false, responsive: false, events: [],
    layout: {padding: {top: 29, left: 0, right: 131, bottom: 0}},
    plugins: {legend: {display: false}, tooltip: {enabled: false}, frameTicks: {len: 8, left: 'y', right: 'y'}},
    scales: {
      x: {type: 'linear', min: 0, max: 14, afterBuildTicks: s => { s.ticks = timeTicks.map(v => ({value: v})); },
        ticks: {autoSkip: false, maxRotation: 0, padding: 5, color: '#000', font: tickFont(13), callback: plain},
        grid: noGrid, border: {display: false}, afterFit: s => { s.height = 39.5; }},
      y: {position: 'left', min: 0, max: 2000, afterBuildTicks: s => { s.ticks = distTicks.map(v => ({value: v})); },
        ticks: {padding: 3, color: '#000', font: tickFont(13), callback: plain},
        grid: noGrid, border: {display: false}, afterFit: s => { s.width = 65; }}
    }
  },
  plugins: [frameTicks]
});

// text: titles, axis labels, legends
function put(html, x, y, size, anchor, rot){
  const el = document.createElement('div');
  el.className = 'lbl';
  el.innerHTML = html;
  el.style.fontSize = size + 'px';
  el.style.left = x + 'px';
  el.style.top = y + 'px';
  const tx = anchor === 'l' ? '0' : '-50%';
  el.style.transform = 'translate(' + tx + ',-50%)' + (rot ? ' rotate(' + rot + 'deg)' : '');
  document.body.appendChild(el);
}
put('Cooper Basin, main stage', 514, 12, 12.5);
put('Flow rate [l/s]', 31, 77, 15, 'c', -90);
put('Pressure [MPa]', 994, 75, 15, 'c', -90);
put('Distance [m]', 15, 318, 15, 'c', -90);
put('Time [d]', 514, 491, 15);
put('Treating pressure', 833, 48, 15.5, 'l');
put('Injection rate', 833, 68, 15.5, 'l');
put('3008 events', 834, 192, 15, 'l');
put('D', 834, 205, 15, 'l');
put('bf', 846, 213, 10, 'l');
put('&gt;1', 853, 222, 7, 'l');
put('= 0.11 m<span style="font-size:9px;position:relative;top:-7px">2</span>/s', 869, 205, 15, 'l');
put('13· (t – t<span style="font-size:10px;position:relative;top:7px">0</span>)<span style="font-size:10px;position:relative;top:-5px;margin-left:3px">0.28</span>', 834, 242, 15, 'l');
put('Back-front', 970, 439, 25.5, 'l');
</script>
</body>
</html>
